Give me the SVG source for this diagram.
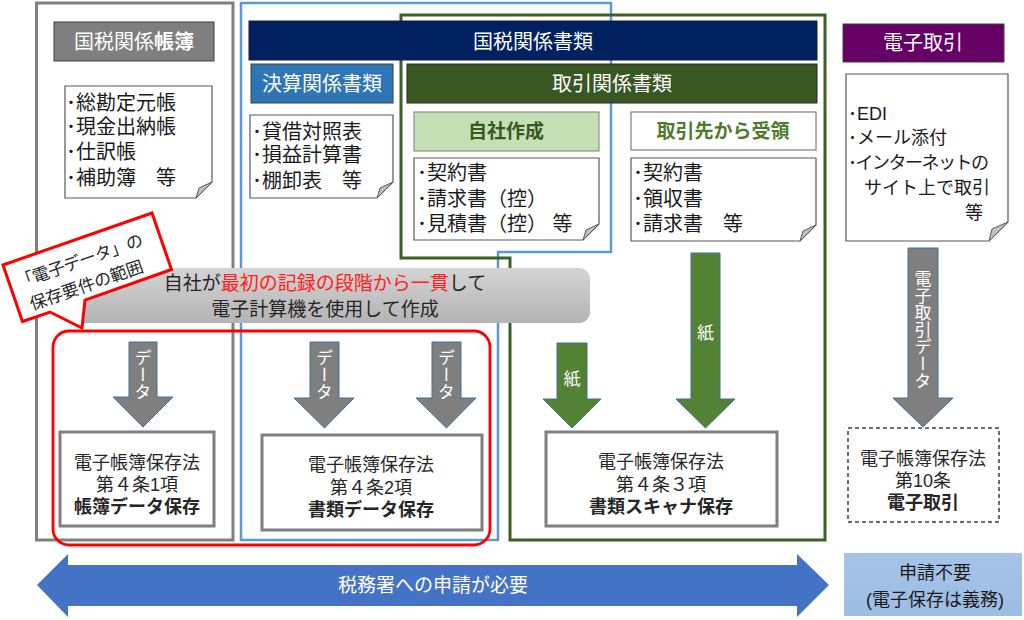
<svg xmlns="http://www.w3.org/2000/svg" width="1024" height="620" viewBox="0 0 1024 620">
<defs>
<linearGradient id="band" x1="0" y1="0" x2="0" y2="1">
<stop offset="0" stop-color="#d4d4d4"/>
<stop offset="1" stop-color="#b4b4b4"/>
</linearGradient>
<linearGradient id="lb" x1="0" y1="0" x2="0" y2="1">
<stop offset="0" stop-color="#a6c3e8"/>
<stop offset="1" stop-color="#9dbde3"/>
</linearGradient>
</defs>
<style>
text{font-family:"Liberation Sans","Noto Sans CJK JP",sans-serif;}
.hd{font-size:20px;fill:#ffffff;text-anchor:middle;}
.nt{font-size:20px;fill:#1a1a1a;}
.note{fill:#ffffff;stroke:#595959;stroke-width:1.2;}
.flap{fill:#c0c0c0;stroke:#595959;stroke-width:1;}
.law{font-size:18px;fill:#262626;text-anchor:middle;}
.b{font-weight:bold;}
.garrow{fill:#7f7f7f;stroke:#41719c;stroke-width:1;}
.grarrow{fill:#548235;stroke:#41719c;stroke-width:1;}
.vt{font-size:17px;fill:#ffffff;writing-mode:vertical-rl;text-anchor:middle;}
.lawbox{fill:#ffffff;stroke:#7f7f7f;stroke-width:3;}
</style>

<g id="frames" fill="none">
<rect id="frame-books" x="36.5" y="3" width="196.5" height="537" stroke="#808080" stroke-width="3"/>
<path id="frame-docs" d="M241,3 H611 V252 H498 V540 H241 Z" stroke="#5b9bd5" stroke-width="2.5"/>
<path id="frame-trade" d="M401,15 H825 V540 H510 V258 H401 Z" stroke="#3b6125" stroke-width="3"/>
</g>

<g id="hdr-books">
<rect x="54" y="22" width="160" height="39" fill="#7f7f7f" stroke="#404040" stroke-width="1"/>
<text class="hd" x="134" y="49">国税関係<tspan class="b">帳簿</tspan></text>
</g>
<g id="note-books">
<path class="note" d="M65,86 H212 V182 L196,198 H65 Z"/>
<path class="flap" d="M212,182 L196,198 L199,188 Z"/>
<text class="nt"><tspan x="66" y="110">･総勘定元帳</tspan><tspan x="66" y="134">･現金出納帳</tspan><tspan x="66" y="159">･仕訳帳</tspan><tspan x="66" y="185">･補助簿　等</tspan></text>
</g>

<g id="hdr-docs">
<rect x="249" y="21" width="568" height="39" fill="#002060" stroke="#1f1f1f" stroke-width="1"/>
<text class="hd" x="533" y="49">国税関係書類</text>
</g>
<g id="hdr-settle">
<rect x="251" y="64" width="142" height="39" fill="#2e75b6" stroke="#404040" stroke-width="1"/>
<text class="hd" x="322" y="91">決算関係書類</text>
</g>
<g id="hdr-trade">
<rect x="407" y="64" width="410" height="39" fill="#385723" stroke="#262626" stroke-width="1"/>
<text class="hd" x="612" y="91">取引関係書類</text>
</g>
<g id="note-settle">
<path class="note" d="M250,115 H393 V182 L377,198 H250 Z"/>
<path class="flap" d="M393,182 L377,198 L380,188 Z"/>
<text class="nt"><tspan x="252" y="139">･貸借対照表</tspan><tspan x="252" y="162">･損益計算書</tspan><tspan x="252" y="188">･棚卸表　等</tspan></text>
</g>
<g id="hdr-self">
<rect x="414" y="112" width="185" height="39" fill="#c5e0b4" stroke="#7f7f7f" stroke-width="1"/>
<text x="506" y="138" font-size="19" font-weight="bold" fill="#385723" text-anchor="middle">自社作成</text>
</g>
<g id="note-self">
<path class="note" d="M414,158 H599 V224 L583,240 H414 Z"/>
<path class="flap" d="M599,224 L583,240 L586,230 Z"/>
<text class="nt"><tspan x="417" y="180">･契約書</tspan><tspan x="417" y="206">･請求書（控）</tspan><tspan x="417" y="231">･見積書（控） 等</tspan></text>
</g>
<g id="hdr-recv">
<rect x="631" y="112" width="185" height="38" fill="#ffffff" stroke="#7f7f7f" stroke-width="1.2"/>
<text x="723" y="138" font-size="19" font-weight="bold" fill="#4e7a2e" text-anchor="middle">取引先から受領</text>
</g>
<g id="note-recv">
<path class="note" d="M631,158 H816 V225 L800,241 H631 Z"/>
<path class="flap" d="M816,225 L800,241 L803,231 Z"/>
<text class="nt"><tspan x="633" y="180">･契約書</tspan><tspan x="633" y="206">･領収書</tspan><tspan x="633" y="231">･請求書　等</tspan></text>
</g>

<g id="hdr-etrade">
<rect x="843" y="24" width="161" height="38" fill="#660066" stroke="#404040" stroke-width="1"/>
<text class="hd" x="923" y="50">電子取引</text>
</g>
<g id="note-etrade">
<path class="note" d="M846,74 H1008 V222 L989,241 H846 Z"/>
<path class="flap" d="M1008,222 L989,241 L992,229 Z"/>
<text font-size="18" fill="#1a1a1a"><tspan x="848" y="119.5">･EDI</tspan><tspan x="848" y="143.5">･メール添付</tspan><tspan x="848" y="168.5" letter-spacing="-1.5">･インターネットの</tspan><tspan x="864" y="193.5">サイト上で取引</tspan><tspan x="965" y="218.5">等</tspan></text>
</g>

<g id="band">
<rect x="70" y="268" width="520" height="55" rx="11" fill="url(#band)"/>
<text font-size="19" fill="#262626" text-anchor="middle"><tspan x="325" y="290">自社が<tspan fill="#ff2020">最初の記録の段階から一貫</tspan>して</tspan><tspan x="325" y="316">電子計算機を使用して作成</tspan></text>
</g>

<g id="callout">
<path d="M3,265 L152,213 L171.5,269.5 L85,300 L82,328 L50,312 L22.5,321.5 Z" fill="#ffffff" stroke="#ff0000" stroke-width="3" stroke-linejoin="miter"/>
<g transform="translate(87,267) rotate(-19.2)">
<text font-size="17" fill="#262626"><tspan x="-71" y="-2" letter-spacing="-0.5">「電子データ」の</tspan><tspan x="-66" y="23">保存要件の範囲</tspan></text>
</g>
</g>

<g id="connectors">
<polygon class="garrow" points="129,342 157,342 157,397 173,397 143,427 113,397 129,397"/>
<text class="vt" x="141" y="375">データ</text>
<polygon class="garrow" points="310,342 339,342 339,398 354,398 324.5,428 294,398 310,398"/>
<text class="vt" x="322.5" y="375">データ</text>
<polygon class="garrow" points="432,342 461,342 461,398 476,398 446.5,428 416,398 432,398"/>
<text class="vt" x="444.5" y="375">データ</text>
<polygon class="grarrow" points="557,343 587,343 587,399 601,399 572,428 543,399 557,399"/>
<text class="vt" x="570" y="379">紙</text>
<polygon class="grarrow" points="691,253 720,253 720,399 735,399 705.5,428 676,399 691,399"/>
<text class="vt" x="703.5" y="333">紙</text>
<polygon class="garrow" points="908,248 938,248 938,398 953,398 923,427 893,398 908,398"/>
<text class="vt" x="921" y="330" font-size="18">電子取引データ</text>
</g>

<rect id="scope" x="53" y="331" width="437" height="214" rx="16" fill="none" stroke="#ff0000" stroke-width="2.8"/>

<g id="law1">
<rect class="lawbox" x="60" y="432" width="154" height="94"/>
<text class="law"><tspan x="137" y="469">電子帳簿保存法</tspan><tspan x="137" y="491">第４条1項</tspan><tspan class="b" x="137" y="513">帳簿データ保存</tspan></text>
</g>
<g id="law2">
<rect class="lawbox" x="262" y="435" width="220" height="95"/>
<text class="law"><tspan x="371" y="471">電子帳簿保存法</tspan><tspan x="371" y="494">第４条2項</tspan><tspan class="b" x="371" y="516">書類データ保存</tspan></text>
</g>
<g id="law3">
<rect class="lawbox" x="546" y="432" width="231" height="94"/>
<text class="law"><tspan x="661" y="468">電子帳簿保存法</tspan><tspan x="661" y="491">第４条３項</tspan><tspan class="b" x="661" y="513">書類スキャナ保存</tspan></text>
</g>
<g id="law4">
<rect x="848" y="428" width="151" height="94" fill="#ffffff" stroke="#404040" stroke-width="1.5" stroke-dasharray="4 3"/>
<text class="law"><tspan x="923" y="465">電子帳簿保存法</tspan><tspan x="923" y="487">第10条</tspan><tspan class="b" x="923" y="509">電子取引</tspan></text>
</g>

<g id="apply-arrow">
<polygon points="37,585 68,554 68,565 797,565 797,554 829,585 797,617 797,606 68,606 68,617" fill="#4472c4"/>
<text x="433" y="592" font-size="19" fill="#ffffff" text-anchor="middle">税務署への申請が必要</text>
</g>
<g id="no-apply">
<rect x="844" y="553" width="178" height="63" fill="url(#lb)"/>
<text font-size="18" fill="#1a1a1a" text-anchor="middle"><tspan x="935" y="579">申請不要</tspan><tspan x="935" y="606">(電子保存は義務)</tspan></text>
</g>
</svg>
